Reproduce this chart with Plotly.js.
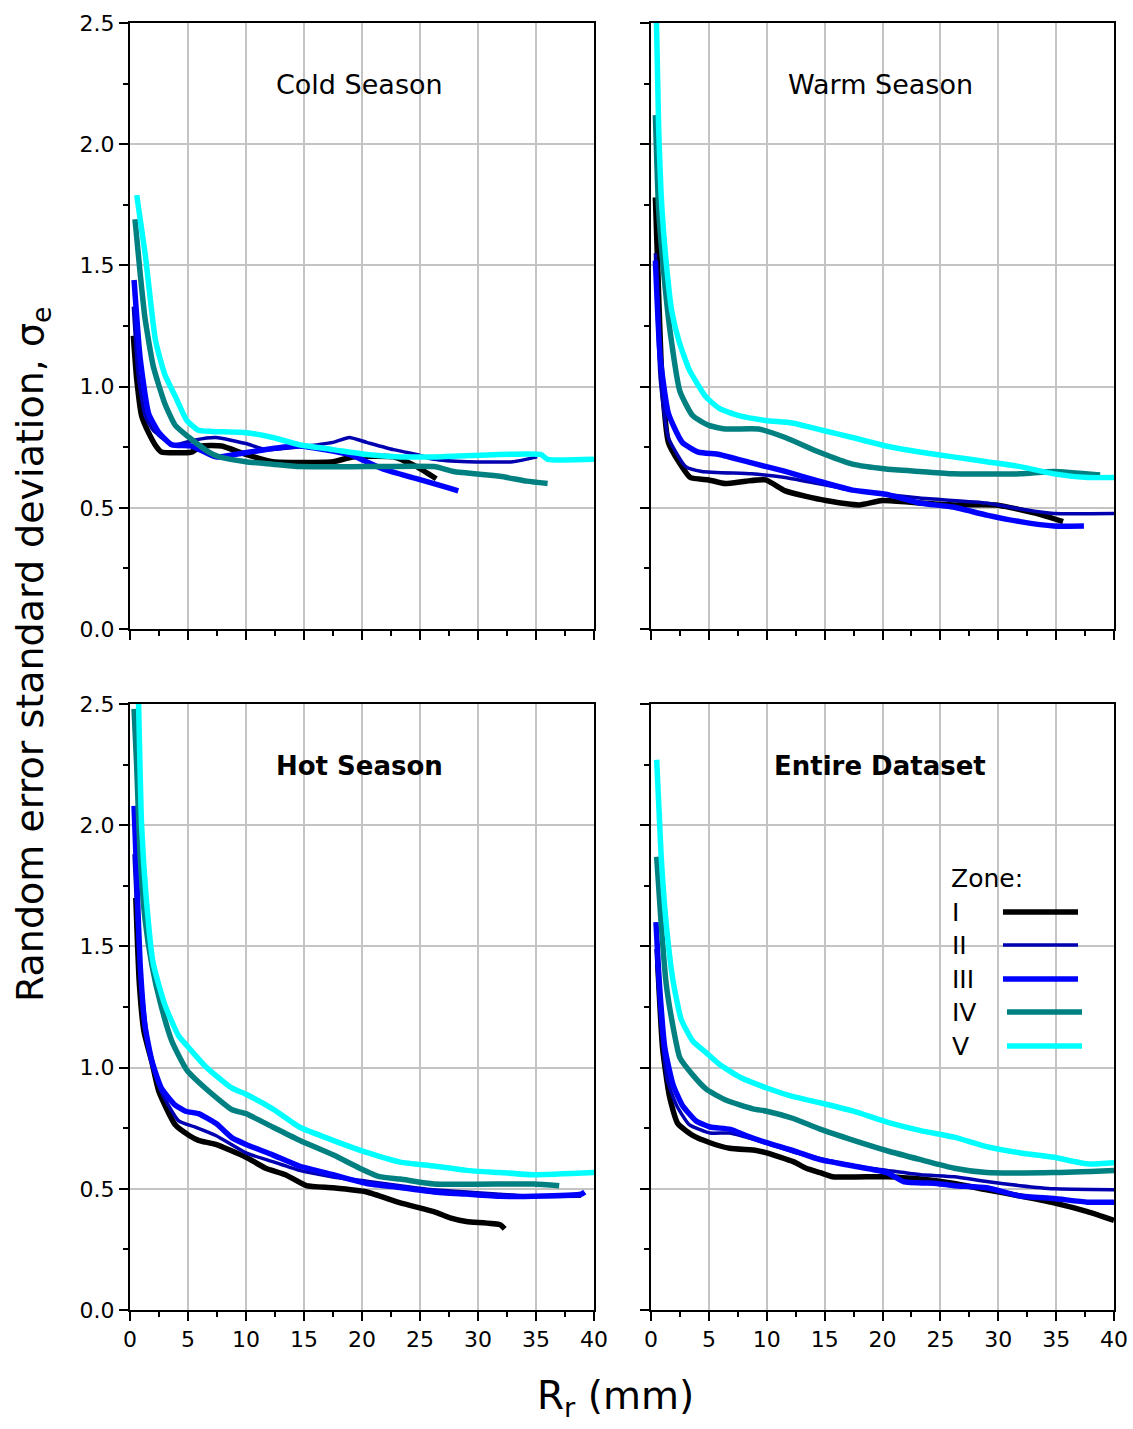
<!DOCTYPE html>
<html>
<head>
<meta charset="utf-8">
<script src="https://cdn.plot.ly/plotly-3.0.1.min.js"></script>
<style>html,body{margin:0;padding:0;background:#fff}#chart{width:1133px;height:1429px}</style>
</head>
<body>
<div id="chart"></div>
<script>
// ---------- DATA ----------
const zones = ["I", "II", "III", "IV", "V"];
const zoneColors = ["#000000", "#0000B0", "#0000FF", "#008080", "#00FFFF"];
const zoneWidths = [5.5, 3.5, 5.5, 5.5, 5.5];
const panelTitles = ["Cold Season", "Warm Season", "Hot Season", "Entire Dataset"];

// Cold Season
const coldIx = [0.29,0.58,1.0,1.6,2.3,2.7,5.3,6.2,7.9,10,12.3,17.5,19.2,22.7,24.7,26.4];
const coldIy = [1.21,1.03,0.88,0.81,0.75,0.73,0.73,0.755,0.755,0.72,0.69,0.69,0.71,0.71,0.67,0.62];
const coldIIx = [0.29,0.7,1.3,2.0,3.0,3.9,5.6,7.4,10,11.7,17.5,18.9,20.4,22.7,24.7,26.2,29.1,33,35.1];
const coldIIy = [1.33,1.05,0.88,0.82,0.78,0.76,0.78,0.79,0.765,0.74,0.77,0.79,0.77,0.74,0.72,0.70,0.69,0.69,0.71];
const coldIIIx = [0.35,0.87,1.6,2.5,3.6,5.3,7.4,10.3,13.1,14.6,18.9,21.8,24.7,27.6,28.3];
const coldIIIy = [1.44,1.12,0.89,0.81,0.76,0.755,0.71,0.73,0.75,0.755,0.72,0.66,0.62,0.58,0.57];
const coldIVx = [0.43,0.87,1.3,2.0,3.0,3.9,5.1,6.8,7.7,10,12.3,14.6,20.4,26.2,27.9,31.9,34.2,36];
const coldIVy = [1.69,1.47,1.28,1.085,0.93,0.84,0.79,0.73,0.71,0.69,0.68,0.67,0.67,0.67,0.65,0.63,0.61,0.60];
const coldVx = [0.58,1.3,2.2,3.0,3.9,4.9,5.9,7.1,10,12.3,14.6,17.5,20.4,23.3,26.2,35.4,36,40];
const coldVy = [1.79,1.55,1.19,1.05,0.96,0.86,0.82,0.815,0.81,0.79,0.76,0.74,0.72,0.71,0.71,0.72,0.70,0.70];

// Warm Season
const warmIx = [0.38,0.66,0.95,1.5,2.4,3.4,5.0,6.4,8.2,9.9,11.6,13.4,15.1,18,20,23.2,26.1,29.8,33.3,35.6];
const warmIy = [1.78,1.38,1.03,0.77,0.69,0.625,0.615,0.60,0.61,0.615,0.57,0.547,0.53,0.512,0.53,0.52,0.512,0.512,0.477,0.443];
const warmIIx = [0.38,0.8,1.5,3.0,4.4,8.7,11.6,17.4,23.2,29,31.9,34.8,40];
const warmIIy = [1.55,1.03,0.79,0.67,0.65,0.64,0.625,0.573,0.54,0.52,0.495,0.477,0.477];
const warmIIIx = [0.38,0.8,1.5,2.7,4.1,5.9,8.7,11.6,14.5,17.4,20.3,23.2,26.1,29,31.9,34.8,37.4];
const warmIIIy = [1.52,1.12,0.89,0.77,0.73,0.72,0.685,0.65,0.61,0.573,0.556,0.52,0.503,0.47,0.443,0.425,0.425];
const warmIVx = [0.38,0.66,1.1,1.7,2.5,3.6,5.0,6.4,9.3,11.6,14.5,17.4,20.3,23.2,26.1,31.9,34.8,38.8];
const warmIVy = [2.12,1.73,1.47,1.21,0.98,0.88,0.84,0.825,0.825,0.79,0.73,0.68,0.66,0.65,0.64,0.64,0.65,0.635];
const warmVx = [0.43,0.66,0.95,1.4,1.8,2.4,3.3,4.7,5.9,7.6,9.9,12.2,14.8,17.4,20.3,23.2,26.1,29,31.9,34.8,37.7,40];
const warmVy = [2.6,2.07,1.73,1.47,1.31,1.19,1.07,0.96,0.91,0.88,0.86,0.85,0.82,0.79,0.755,0.73,0.71,0.69,0.67,0.64,0.625,0.625];

// Hot Season
const hotIx = [0.5,0.8,1.2,1.9,2.5,3.9,5.1,5.9,7.4,10,11.7,13.4,15.2,17.5,20.4,23.3,26.2,27.6,29,31.9,32.3];
const hotIy = [1.70,1.35,1.15,1.02,0.90,0.764,0.72,0.70,0.683,0.63,0.585,0.558,0.513,0.504,0.487,0.442,0.406,0.38,0.365,0.352,0.335];
const hotIIx = [0.35,0.72,1.2,1.7,2.7,4.2,5.6,7.4,10,12.3,14.6,17.5,20.4,23.3,26.2,31.9,34.8,38.9];
const hotIIy = [1.88,1.52,1.24,1.06,0.90,0.78,0.755,0.72,0.648,0.612,0.576,0.549,0.531,0.513,0.496,0.478,0.469,0.469];
const hotIIIx = [0.35,0.58,0.87,1.3,1.9,2.7,3.9,4.8,5.9,7.4,8.8,10,12.3,14.6,17.5,20.4,23.3,26.2,29,31.9,34.8,38.9,39.2];
const hotIIIy = [2.08,1.79,1.43,1.17,1.025,0.915,0.845,0.82,0.81,0.77,0.71,0.683,0.64,0.594,0.558,0.522,0.505,0.487,0.478,0.469,0.469,0.478,0.487];
const hotIVx = [0.35,0.58,0.87,1.3,1.9,2.6,3.6,4.9,6.5,8.8,10,12.3,14.6,17.5,19.8,21.5,23.3,26.2,34.8,37];
const hotIVy = [2.48,2.24,1.88,1.61,1.42,1.27,1.11,0.99,0.915,0.826,0.81,0.755,0.70,0.64,0.585,0.55,0.54,0.52,0.52,0.513];
const hotVx = [0.72,1.0,1.4,2.0,3.0,4.2,5.1,6.5,8.8,10,12.3,14.6,17.5,20.4,23.3,26.2,29,31.9,34.8,40];
const hotVy = [2.55,2.0,1.70,1.43,1.26,1.13,1.08,1.005,0.915,0.89,0.83,0.755,0.70,0.65,0.61,0.594,0.576,0.567,0.558,0.567];

// Entire Dataset
const allIx = [0.58,1.0,1.6,2.3,3.6,5.1,6.8,9.1,10,12.3,13.4,14.6,15.7,20.4,23.3,26.2,29,31.9,34.8,37.7,40];
const allIy = [1.43,1.08,0.88,0.77,0.72,0.69,0.667,0.658,0.648,0.612,0.585,0.567,0.55,0.55,0.54,0.522,0.496,0.47,0.442,0.406,0.37];
const allIIx = [0.43,0.87,1.4,2.2,3.3,5.1,6.8,8.8,10,12.3,14.6,17.5,20.4,23.3,26.2,29,31.9,34.8,40];
const allIIy = [1.49,1.17,0.95,0.845,0.765,0.73,0.73,0.705,0.688,0.652,0.625,0.594,0.576,0.558,0.55,0.53,0.513,0.50,0.496];
const allIIIx = [0.43,0.72,1.2,1.9,2.7,3.9,5.1,6.8,8.2,10,12.3,14.6,17.5,20.4,21.8,24.7,26.2,29,31.9,34.8,37.7,40];
const allIIIy = [1.60,1.35,1.08,0.93,0.845,0.78,0.755,0.746,0.72,0.69,0.657,0.62,0.594,0.567,0.53,0.522,0.513,0.504,0.47,0.46,0.445,0.445];
const allIVx = [0.49,0.87,1.3,1.9,2.5,3.6,4.8,6.5,8.8,10,12.3,14.6,17.5,20.4,23.3,26.2,29,34.8,40];
const allIVy = [1.87,1.60,1.35,1.17,1.04,0.97,0.91,0.865,0.83,0.82,0.79,0.746,0.70,0.657,0.62,0.585,0.567,0.567,0.576];
const allVx = [0.49,0.87,1.3,1.9,2.6,3.6,4.8,5.9,7.7,10,12.3,14.6,17.5,20.4,23.3,26.2,29,31.9,34.8,37.7,40];
const allVy = [2.27,1.88,1.60,1.36,1.20,1.11,1.06,1.014,0.96,0.916,0.88,0.855,0.82,0.775,0.74,0.713,0.674,0.648,0.63,0.603,0.608];

const xTickVals = [0, 5, 10, 15, 20, 25, 30, 35, 40];
const yTickVals = [0, 0.5, 1.0, 1.5, 2.0, 2.5];
const yTickText = ["0.0", "0.5", "1.0", "1.5", "2.0", "2.5"];

// ---------- BUILD ----------
const panels = [
  [[coldIx,coldIy],[coldIIx,coldIIy],[coldIIIx,coldIIIy],[coldIVx,coldIVy],[coldVx,coldVy]],
  [[warmIx,warmIy],[warmIIx,warmIIy],[warmIIIx,warmIIIy],[warmIVx,warmIVy],[warmVx,warmVy]],
  [[hotIx,hotIy],[hotIIx,hotIIy],[hotIIIx,hotIIIy],[hotIVx,hotIVy],[hotVx,hotVy]],
  [[allIx,allIy],[allIIx,allIIy],[allIIIx,allIIIy],[allIVx,allIVy],[allVx,allVy]]
];

const W = 1133, H = 1429;
const colPx = [[130, 594], [651, 1114]];
const rowPx = [[23, 629], [704, 1310]];
const FONT = "DejaVu Sans, Liberation Sans, Arial, sans-serif";

const traces = [];
const layout = {
  width: W, height: H,
  margin: {l: 0, r: 0, t: 0, b: 0},
  paper_bgcolor: "#fff", plot_bgcolor: "#fff",
  showlegend: false,
  font: {family: FONT, color: "#000"},
  annotations: [], shapes: []
};

panels.forEach((series, p) => {
  const n = p + 1;
  const col = p % 2, row = Math.floor(p / 2);
  const xa = "x" + (n === 1 ? "" : n), ya = "y" + (n === 1 ? "" : n);
  series.forEach((s, z) => {
    traces.push({
      x: s[0], y: s[1], xaxis: xa, yaxis: ya,
      type: "scatter", mode: "lines", name: zones[z],
      line: {color: zoneColors[z], width: zoneWidths[z], shape: "spline", smoothing: 0.5}
    });
  });
  const common = {
    showline: true, linecolor: "#000", linewidth: 2, mirror: true,
    showgrid: true, gridcolor: "#c4c4c4", gridwidth: 2,
    zeroline: false, ticks: "outside", ticklen: 9, tickwidth: 2, tickcolor: "#000",
    tickfont: {family: FONT, size: 22, color: "#000"}, fixedrange: true
  };
  layout["xaxis" + (n === 1 ? "" : n)] = Object.assign({}, common, {
    domain: [colPx[col][0] / W, colPx[col][1] / W],
    anchor: ya, range: [0, 40], tickvals: xTickVals,
    showticklabels: row === 1,
    minor: {dtick: 2.5, ticklen: 5, tickwidth: 2, tickcolor: "#000", ticks: "outside", showgrid: false}
  });
  layout["yaxis" + (n === 1 ? "" : n)] = Object.assign({}, common, {
    domain: [1 - rowPx[row][1] / H, 1 - rowPx[row][0] / H],
    anchor: xa, range: [0, 2.5], tickvals: yTickVals, ticktext: yTickText,
    showticklabels: col === 0,
    minor: {dtick: 0.25, ticklen: 5, tickwidth: 2, tickcolor: "#000", ticks: "outside", showgrid: false}
  });
  layout.annotations.push({
    text: panelTitles[p], xref: xa + " domain", yref: ya + " domain",
    x: 0.495, y: 0.898, showarrow: false, xanchor: "center", yanchor: "middle",
    font: {family: FONT, size: row === 1 ? 26 : 27, color: "#000", weight: row === 1 ? 700 : 400}
  });
});

// axis titles
layout.annotations.push({
  text: "Random error standard deviation, σ<sub>e</sub>",
  xref: "paper", yref: "paper", x: 32 / W, y: 1 - 655 / H,
  textangle: -90, showarrow: false, xanchor: "center", yanchor: "middle",
  font: {family: FONT, size: 38, color: "#000"}
});
layout.annotations.push({
  text: "R<sub>r</sub> (mm)",
  xref: "paper", yref: "paper", x: 615 / W, y: 1 - 1398 / H,
  showarrow: false, xanchor: "center", yanchor: "middle",
  font: {family: FONT, size: 39, color: "#000"}
});

// legend (custom: label on left, line sample on right)
layout.annotations.push({
  text: "Zone:", xref: "paper", yref: "paper", x: 949 / W, y: 1 - 878 / H,
  showarrow: false, xanchor: "left", yanchor: "middle",
  font: {family: FONT, size: 25, color: "#000"}
});
const legY = [912, 945, 979, 1012, 1046];
const legX0 = [1003, 1003, 1003, 1007, 1007];
zones.forEach((z, i) => {
  layout.annotations.push({
    text: z, xref: "paper", yref: "paper", x: 950 / W, y: 1 - legY[i] / H,
    showarrow: false, xanchor: "left", yanchor: "middle",
    font: {family: FONT, size: 25, color: "#000"}
  });
  layout.shapes.push({
    type: "line", xref: "paper", yref: "paper",
    x0: legX0[i] / W, x1: (legX0[i] + 75) / W, y0: 1 - legY[i] / H, y1: 1 - legY[i] / H,
    line: {color: zoneColors[i], width: zoneWidths[i]}
  });
});

Plotly.newPlot("chart", traces, layout, {displayModeBar: false, staticPlot: true});
</script>
</body>
</html>
